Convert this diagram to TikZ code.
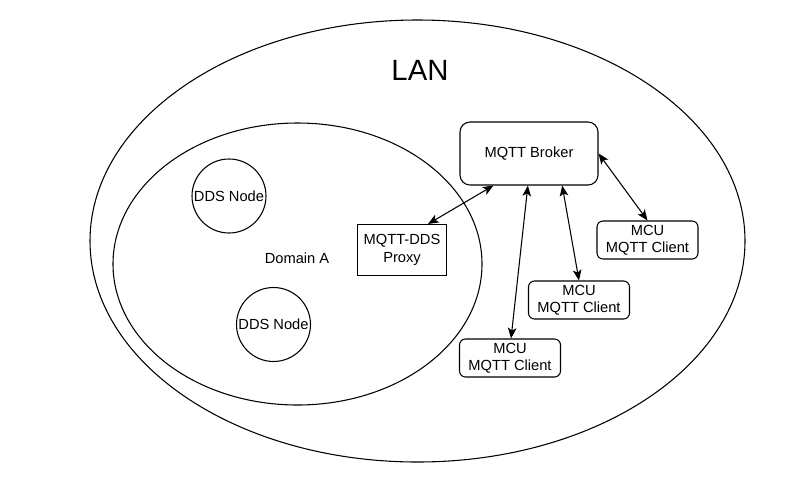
\documentclass[tikz,border=0pt]{standalone}
\usepackage{fontspec}
\setmainfont{Liberation Sans}
\usetikzlibrary{arrows.meta}

\tikzset{every picture/.style={line width=0.8pt}}
\tikzset{
  lbl/.style={inner sep=0.75pt, font=\fontsize{11}{13}\selectfont, align=center},
  ddsnode/.style={lbl, draw, circle, minimum size=55.5pt, inner sep=0pt},
  proxybox/.style={lbl, draw, minimum width=66.75pt, minimum height=38.25pt, font=\fontsize{11}{14}\selectfont},
  brokerbox/.style={lbl, draw, rounded corners=7.5pt, minimum width=103.5pt, minimum height=47.25pt},
  mcubox/.style={lbl, draw, rounded corners=4.5pt, minimum width=75.75pt, minimum height=28.5pt},
  link/.style={{Stealth[length=8pt,width=6.5pt,inset=2pt]}-{Stealth[length=8pt,width=6.5pt,inset=2pt]}}
}

\begin{document}
\begin{tikzpicture}[x=0.75pt,y=0.75pt,yscale=-1]
    \useasboundingbox (0,0) rectangle (791,479);

    %Shape: Ellipse [LAN]
    \draw (417.5,241) ellipse [x radius=327.5, y radius=221];
    %Shape: Ellipse [Domain A]
    \draw (297.5,264) ellipse [x radius=184.5, y radius=141];

    % Text Node
    \node (lan) at (420,70) [inner sep=0.75pt, font=\fontsize{22}{26}\selectfont] {LAN};
    % Text Node
    \node (domA) at (297,258) [lbl] {Domain A};

    % DDS nodes
    \node (dds1) at (229,196) [ddsnode] {DDS Node};
    \node (dds2) at (273.5,324.5) [ddsnode] {DDS Node};

    % Proxy and broker
    \node (proxy) at (402,250) [proxybox] {MQTT-DDS\\Proxy};
    \node (broker) at (529,153.5) [brokerbox] {MQTT Broker};

    % MCU clients
    \node (mcuA) at (647.5,240) [mcubox] {MCU\\MQTT Client};
    \node (mcuB) at (579,300) [mcubox] {MCU\\MQTT Client};
    \node (mcuC) at (510,358) [mcubox] {MCU\\MQTT Client};

    % Links
    \draw [link] (proxy.45) -- (broker.222);
    \draw [link] (mcuC.87) -- (broker.268);
    \draw [link] (broker.-44.5) -- (mcuB.north);
    \draw [link] (broker.east) -- (mcuA.north);

\end{tikzpicture}
\end{document}
